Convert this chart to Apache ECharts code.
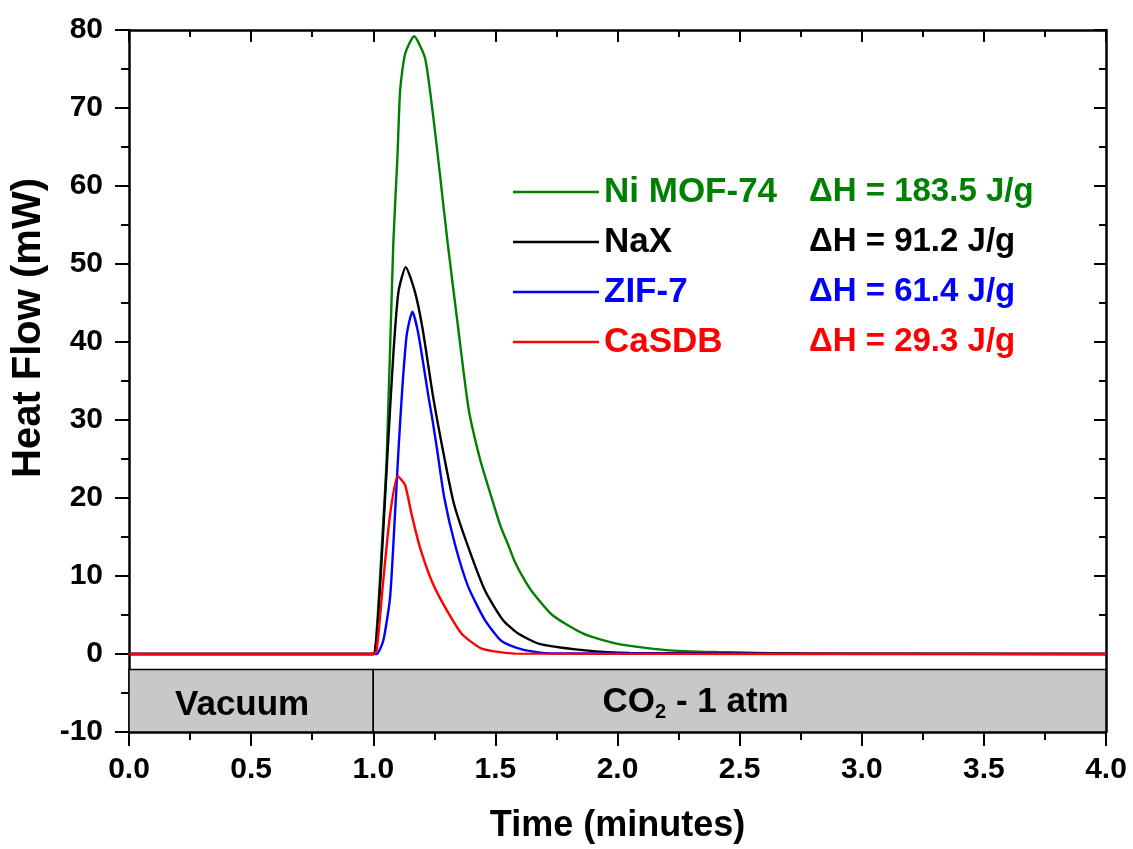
<!DOCTYPE html>
<html><head><meta charset="utf-8">
<script src="https://cdn.jsdelivr.net/npm/echarts@6/dist/echarts.min.js"></script>
<style>html,body{margin:0;padding:0;background:#fff}#c{width:1133px;height:849px}</style>
</head><body><div id="c"></div>
<script>
const seriesNames = ['Ni MOF-74', 'NaX', 'ZIF-7', 'CaSDB'];
const deltaH = ['183.5', '91.2', '61.4', '29.3'];
const colors = ['#008000', '#000000', '#0000ff', '#ff0000'];
const niMof74 = [[0,0],[1.0,0],[1.014,3.0],[1.035,13.7],[1.055,25.1],[1.082,52.6],[1.099,63.7],[1.110,72.2],[1.130,76.9],[1.167,79.2],[1.212,76.4],[1.246,68.8],[1.273,61.5],[1.305,52.6],[1.348,41.7],[1.39,31.5],[1.437,25.0],[1.485,20.0],[1.52,16.5],[1.555,13.8],[1.58,11.8],[1.621,9.4],[1.655,7.8],[1.737,4.9],[1.86,2.6],[2.0,1.3],[2.2,0.5],[2.41,0.25],[2.75,0.05],[4.0,0]];
const naX = [[0,0],[1.0,0],[1.007,0.5],[1.021,5.1],[1.041,15.8],[1.059,26.0],[1.082,38.3],[1.103,46.4],[1.133,49.6],[1.171,46.4],[1.202,41.7],[1.246,32.8],[1.289,25.5],[1.33,19.3],[1.389,13.7],[1.458,8.1],[1.53,4.4],[1.59,2.7],[1.68,1.3],[1.86,0.5],[2.05,0.15],[4.0,0]];
const zif7 = [[0,0],[1.0,0],[1.014,0],[1.041,1.7],[1.069,7.3],[1.089,17.9],[1.103,26.0],[1.119,34.1],[1.137,40.9],[1.160,43.9],[1.185,41.0],[1.226,33.0],[1.241,30.3],[1.26,26.5],[1.291,20.0],[1.335,14.0],[1.389,8.6],[1.458,4.3],[1.52,1.8],[1.56,1.1],[1.62,0.5],[1.72,0.1],[4.0,0]];
const caSDB = [[0,0],[1.0,0],[1.014,0.5],[1.041,9.4],[1.069,17.9],[1.100,22.8],[1.130,21.7],[1.157,17.9],[1.191,13.7],[1.239,9.4],[1.294,6.0],[1.362,2.6],[1.444,0.7],[1.58,0.05],[4.0,0]];
const seriesData = [niMof74, naX, zif7, caSDB];
const bandRange = [-10, -2];
const bandSplit = [0, 1.0, 4.0];
const bandLabels = ['Vacuum', '{t|CO}{s|2}{t| - 1 atm}'];

const FONT = '"Liberation Sans", Arial, sans-serif';
const chart = echarts.init(document.getElementById('c'));
const axisLine = {show: true, onZero: false, lineStyle: {color: '#000', width: 2.5}};
const series = seriesNames.map((n, i) => ({
  name: n, type: 'line', data: seriesData[i], symbol: 'none', smooth: 0.2,
  lineStyle: {color: colors[i], width: 2.4}, itemStyle: {color: colors[i]}, z: 5
}));
series.push({
  type: 'line', data: [], silent: true,
  markArea: {
    silent: true,
    itemStyle: {color: '#c8c8c8', borderColor: '#000', borderWidth: 1.5},
    label: {show: true, position: 'inside', color: '#000', fontFamily: FONT, fontWeight: 'bold', fontSize: 35,
      rich: {t: {fontSize: 35, fontWeight: 'bold', fontFamily: FONT, color: '#000'},
             s: {fontSize: 20, fontWeight: 'bold', fontFamily: FONT, color: '#000', verticalAlign: 'bottom', padding: [20,0,0,0]}}},
    data: [
      [{xAxis: bandSplit[0], yAxis: bandRange[0], name: bandLabels[0], label: {offset: [-9, 5]}}, {xAxis: bandSplit[1], yAxis: bandRange[1]}],
      [{xAxis: bandSplit[1], yAxis: bandRange[0], name: bandLabels[1], label: {offset: [-44, 2]}}, {xAxis: bandSplit[2], yAxis: bandRange[1]}]
    ]
  }, z: 1
});
const tick = (inside) => ({show: true, inside: inside, length: inside ? 12 : 14, lineStyle: {color: '#000', width: 2}});
const minor = (inside) => ({show: true, splitNumber: 2, length: inside ? 7 : 8, lineStyle: {color: '#000', width: 2}});
chart.setOption({
  animation: false,
  backgroundColor: '#fff',
  grid: {left: 129, right: 27, top: 30, bottom: 114},
  legend: {
    left: 508, top: 169, orient: 'vertical', itemGap: 14, itemWidth: 86, itemHeight: 2.5,
    icon: 'rect',
    data: seriesNames.map((n, i) => ({name: n, itemStyle: {color: colors[i]}, textStyle: {color: colors[i]}})),
    textStyle: {fontFamily: FONT, fontWeight: 'bold', fontSize: 34, lineHeight: 36,
      rich: {n: {width: 205, fontFamily: FONT, fontWeight: 'bold', fontSize: 35}, h: {fontFamily: FONT, fontWeight: 'bold', fontSize: 33}}},
    formatter: name => { const i = seriesNames.indexOf(name); return '{n|' + name + '}{h|ΔH = ' + deltaH[i] + ' J/g}'; }
  },
  xAxis: [
    {type: 'value', min: 0, max: 4, interval: 0.5, position: 'bottom', axisLine: axisLine, splitLine: {show: false},
      name: 'Time (minutes)', nameLocation: 'middle', nameGap: 76,
      nameTextStyle: {fontFamily: FONT, fontWeight: 'bold', fontSize: 36, color: '#000'},
      axisTick: tick(false), minorTick: minor(false),
      axisLabel: {fontFamily: FONT, fontWeight: 'bold', fontSize: 30, color: '#000', margin: 23, formatter: v => v.toFixed(1)}},
    {type: 'value', min: 0, max: 4, interval: 0.5, position: 'top', axisLine: axisLine, splitLine: {show: false},
      axisTick: tick(true), minorTick: minor(true), axisLabel: {show: false}}
  ],
  yAxis: [
    {type: 'value', min: -10, max: 80, interval: 10, position: 'left', axisLine: axisLine, splitLine: {show: false},
      name: 'Heat Flow (mW)', nameLocation: 'middle', nameGap: 80,
      nameTextStyle: {fontFamily: FONT, fontWeight: 'bold', fontSize: 40, color: '#000', padding: [0, 0, 0, 106]},
      axisTick: tick(false), minorTick: minor(false),
      axisLabel: {fontFamily: FONT, fontWeight: 'bold', fontSize: 30, color: '#000', margin: 26}},
    {type: 'value', min: -10, max: 80, interval: 10, position: 'right', axisLine: axisLine, splitLine: {show: false},
      axisTick: tick(true), minorTick: minor(true), axisLabel: {show: false}}
  ],
  series: series
});
</script></body></html>
